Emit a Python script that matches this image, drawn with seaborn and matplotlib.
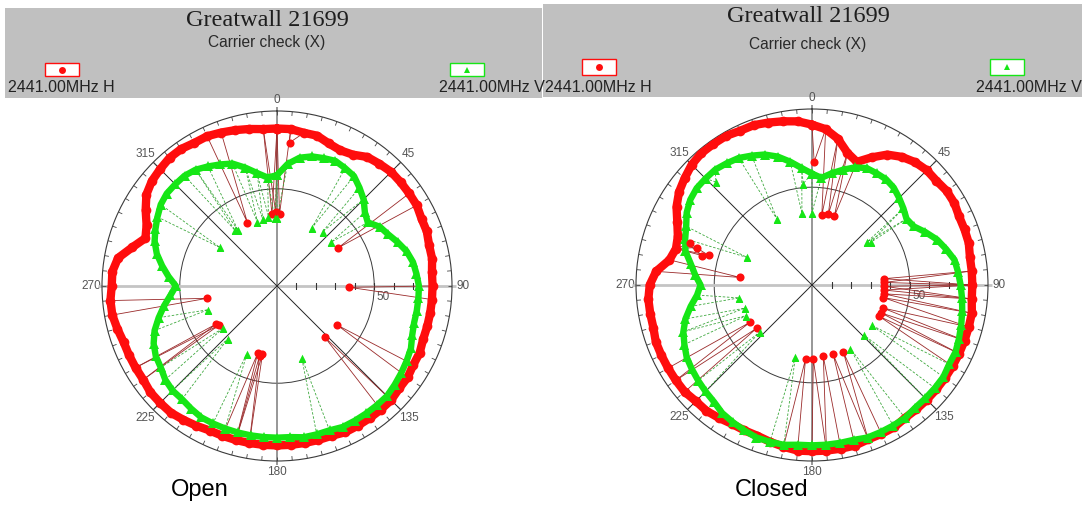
import numpy as np
import pandas as pd
import matplotlib
matplotlib.use("Agg")
import matplotlib.pyplot as plt
from matplotlib.patches import Rectangle
from matplotlib.lines import Line2D
import seaborn as sns

# ---------------------------------------------------------------- data
# Pattern level read every 5 degrees (0 = top, clockwise), radial scale 0..90
angles = list(range(0, 360, 5))

open_h = [81, 81, 80, 80, 78, 77, 78, 81, 82, 83,
          83, 83, 83, 82, 82, 81, 81, 80, 80, 80,
          80, 80, 80, 81, 81, 82, 82, 83, 83, 83,
          83, 83, 82, 82, 82, 82, 82, 82, 82, 82,
          82, 82, 83, 84, 85, 85, 85, 84, 84, 84,
          84, 85, 86, 86, 85, 85, 83, 77, 72, 74,
          78, 82, 84, 85, 86, 86, 85, 85, 84, 83,
          82, 81]
open_v = [57, 63, 67, 69, 70, 71, 70, 69, 66, 63,
          59, 57, 61, 63, 66, 69, 71, 72, 73, 73,
          73, 73, 74, 76, 77, 78, 79, 80, 80, 80,
          80, 80, 79, 79, 79, 78, 78, 78, 78, 78,
          78, 78, 78, 77, 76, 76, 75, 73, 72, 70,
          67, 63, 59, 55, 52, 56, 60, 64, 67, 69,
          71, 73, 74, 74, 74, 73, 71, 69, 67, 63,
          59, 56]
closed_h = [82, 80, 76, 70, 67, 72, 77, 80, 82, 83,
            83, 84, 84, 83, 83, 83, 82, 82, 82, 82,
            83, 83, 83, 83, 83, 83, 83, 83, 83, 83,
            84, 84, 84, 85, 85, 85, 85, 85, 84, 83,
            82, 82, 82, 83, 84, 84, 85, 85, 85, 85,
            85, 84, 84, 84, 83, 80, 74, 72, 73, 76,
            80, 83, 85, 87, 88, 88, 88, 87, 87, 86,
            85, 84]
closed_v = [57, 55, 58, 61, 64, 66, 66, 66, 65, 63,
            61, 59, 60, 64, 68, 71, 74, 75, 76, 77,
            78, 79, 80, 81, 81, 82, 82, 82, 82, 83,
            83, 83, 83, 82, 82, 82, 82, 82, 83, 83,
            83, 82, 81, 80, 78, 77, 76, 75, 74, 72,
            70, 67, 63, 59, 57, 60, 63, 67, 69, 71,
            74, 76, 77, 77, 77, 76, 75, 73, 71, 68,
            64, 60]

# Drop-out samples (angle in degrees, level)
open_h_drop_ang = [5, 356, 359, 2, 335, 58, 91, 123, 137, 192, 194, 196, 236, 238, 260]
open_h_drop_r = [74, 37, 38, 37, 36, 37, 37, 37, 36, 36, 37, 36, 36, 37, 36.5]
open_v_drop_ang = [323, 325, 304, 343, 348, 353, 358, 0, 31, 40, 51, 251, 232, 223, 204, 161]
open_v_drop_r = [36, 35, 35.5, 34.5, 35, 36, 35, 35, 35, 36.5, 36, 37.5, 35, 37, 38, 39]

closed_h_drop_ang = [1, 8, 13, 18, 285, 286, 288, 289, 276, 85, 88, 91, 94, 97, 100,
                     108, 112, 115, 232, 239, 155, 163, 171, 179, 185]
closed_h_drop_r = [63, 36, 37, 37, 58, 55, 62, 66, 37, 37, 37, 37, 37, 37, 37,
                   38, 38, 38, 36, 37, 38, 37, 37, 38, 38]
closed_v_drop_ang = [332, 352, 0, 355, 317, 293, 260, 251, 245, 228, 193, 149, 134, 124, 52, 54]
closed_v_drop_r = [38, 37, 37, 52, 72, 36, 38, 36.5, 37, 36, 38, 38, 37, 37, 36, 37]

angle_labels = ["0", "45", "90", "135", "180", "225", "270", "315"]
title = "Greatwall 21699"
subtitle = "Carrier check (X)"
label_h = "2441.00MHz H"
label_v = "2441.00MHz V"
panel_names = ["Open", "Closed"]

# ---------------------------------------------------------------- style
W, H = 1082, 512
RMAX = 90
RED = "#ff0d0d"
GREEN = "#16e616"
RED_SPIKE = "#9a2a2a"
GREEN_SPIKE = "#3da83d"
HEADER = "#c0c0c0"

sns.set_theme(style="white")
plt.rcParams["font.family"] = ["Liberation Sans", "DejaVu Sans"]

fig = plt.figure(figsize=(W / 100, H / 100), dpi=100)
fig.patch.set_facecolor("white")


def fx(x):
    return x / W


def fy(y):
    return 1 - y / H


def draw_trace(ax, vals, color, marker, ms, lw):
    th = np.deg2rad(angles + [360])
    rr = list(vals) + [vals[0]]
    df = pd.DataFrame({"theta": th, "r": rr})
    sns.lineplot(data=df, x="theta", y="r", ax=ax, sort=False, estimator=None,
                 color=color, lw=lw, marker=marker, markersize=ms,
                 markeredgewidth=0, zorder=5, solid_joinstyle="round")


def draw_drops(ax, vals, d_ang, d_r, color, spike_color, ls, marker, ms):
    n = len(angles)
    for a, r in zip(d_ang, d_r):
        lo = int(np.floor(a / 5)) % n
        hi = (lo + 1) % n
        th = np.deg2rad([angles[lo], a, angles[hi] if hi else 360])
        rr = [vals[lo], r, vals[hi]]
        ax.plot(th, rr, color=spike_color, lw=0.6, ls=ls, zorder=3)
    df = pd.DataFrame({"theta": np.deg2rad(d_ang), "r": d_r})
    sns.scatterplot(data=df, x="theta", y="r", ax=ax, color=color, marker=marker,
                    s=ms, linewidth=0, zorder=7)


def draw_panel(cx, cy, rad, h_vals, v_vals, h_drop, v_drop):
    ax = fig.add_axes([fx(cx - rad), fy(cy + rad), 2 * rad / W, 2 * rad / H],
                      projection="polar")
    ax.set_theta_zero_location("N")
    ax.set_theta_direction(-1)
    ax.set_ylim(0, RMAX)
    ax.set_facecolor("white")
    ax.xaxis.grid(False)
    ax.set_rgrids([50], labels=[""])
    ax.yaxis.grid(True, color="#3a3a3a", lw=0.7)
    ax.spines["polar"].set_color("#3a3a3a")
    ax.spines["polar"].set_linewidth(0.8)

    ax.set_xticks(np.deg2rad(np.arange(0, 360, 45)))
    ax.set_xticklabels(angle_labels)
    ax.tick_params(axis="x", length=0, pad=1, labelsize=8.5, labelcolor="#555555")

    # axis lines through the centre
    ax.vlines(np.deg2rad([0, 180]), 0, 92, colors="#7a7a7a", lw=1.1, clip_on=False, zorder=2)
    ax.vlines(np.deg2rad([90, 270]), 0, 92, colors="#c4c4c4", lw=2.0, clip_on=False, zorder=2)
    ax.vlines(np.deg2rad([45, 135, 225, 315]), 0, RMAX, colors="#222222", lw=0.7, zorder=2)
    # degree ticks on the rim
    ax.vlines(np.deg2rad(np.arange(0, 360, 5)), 87.8, RMAX, colors="#444444", lw=0.6, zorder=2)
    # level ticks along the 90 degree axis
    ax.plot(np.full(8, np.pi / 2), np.arange(10, 90, 10), ls="none", marker="|",
            ms=4, mew=0.8, color="#333333", zorder=2)
    ax.text(np.deg2rad(96), 55, "50", fontsize=8.5, color="#555555",
            ha="center", va="center", zorder=2)

    draw_drops(ax, h_vals, h_drop[0], h_drop[1], RED, RED_SPIKE, "-", "o", 34)
    draw_drops(ax, v_vals, v_drop[0], v_drop[1], GREEN, GREEN_SPIKE, (0, (3, 2)), "^", 30)
    draw_trace(ax, h_vals, RED, "o", 7, 6.0)
    draw_trace(ax, v_vals, GREEN, "^", 6.5, 4.6)
    ax.set_xlabel("")
    ax.set_ylabel("")
    ax.set_ylim(0, RMAX)
    return ax


def draw_header(x0, x1, y0, y1, box_y, h_box_x, v_box_x, h_text_x, v_text_x, cx, ty, sy):
    fig.add_artist(Rectangle((fx(x0), fy(y1)), (x1 - x0) / W, (y1 - y0) / H,
                             transform=fig.transFigure, facecolor=HEADER,
                             edgecolor="none", zorder=-2))
    fig.text(fx(cx), fy(ty), title, family=["Liberation Serif", "DejaVu Serif"],
             fontsize=17.5, ha="center", va="center", color="#1e1e1e")
    fig.text(fx(cx), fy(sy), subtitle, fontsize=11.2, ha="center", va="center",
             color="#2a2a2a")
    for bx, edge, mk in [(h_box_x, RED, "o"), (v_box_x, GREEN, "^")]:
        fig.add_artist(Rectangle((fx(bx), fy(box_y[1])), 34 / W, (box_y[1] - box_y[0]) / H,
                                 transform=fig.transFigure, facecolor="white",
                                 edgecolor=edge, lw=1.0, zorder=-1))
        fig.add_artist(Line2D([fx(bx + 17)], [fy((box_y[0] + box_y[1]) / 2)],
                              transform=fig.transFigure, marker=mk, ms=5,
                              color=edge, mew=0, ls="none"))
    fig.text(fx(h_text_x), fy(88), label_h, fontsize=11.5, ha="left", va="center",
             color="#222222")
    fig.text(fx(v_text_x), fy(88), label_v, fontsize=11.5, ha="right", va="center",
             color="#222222")


draw_header(5, 542, 8, 98, (63, 76), 45, 450, 8, 545, 267, 21, 42)
draw_header(543, 1082, 4, 97, (59, 75), 582, 990, 545, 1082, 808, 17, 44)

draw_panel(277, 286, 175, open_h, open_v,
           (open_h_drop_ang, open_h_drop_r), (open_v_drop_ang, open_v_drop_r))
draw_panel(812, 285, 176, closed_h, closed_v,
           (closed_h_drop_ang, closed_h_drop_r), (closed_v_drop_ang, closed_v_drop_r))

fig.text(fx(200), fy(490), panel_names[0], fontsize=17, ha="center", va="center", color="black")
fig.text(fx(772), fy(490), panel_names[1], fontsize=17, ha="center", va="center", color="black")

fig.savefig("out.png", dpi=100, facecolor="white")
